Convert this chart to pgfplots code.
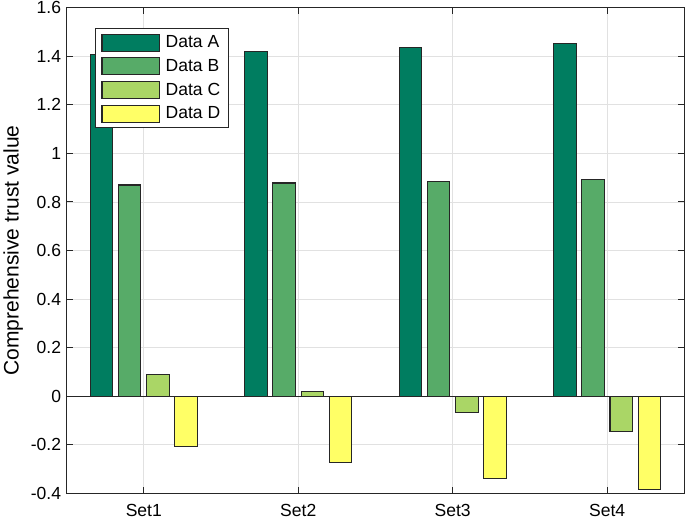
\documentclass[border=0pt]{standalone}
\usepackage{fontspec}
\setmainfont{Liberation Sans}
\usepackage{pgfplots}
\pgfplotsset{compat=1.18}

\definecolor{cA}{RGB}{0,125,96}
\definecolor{cB}{RGB}{87,171,104}
\definecolor{cC}{RGB}{170,214,102}
\definecolor{cD}{RGB}{255,255,102}
\definecolor{edge}{RGB}{38,38,38}
\definecolor{gridc}{RGB}{225,225,225}

\begin{document}
\begin{tikzpicture}
\begin{axis}[
    scale only axis,
    width=617pt, height=485pt,
    xmin=0.5, xmax=4.5,
    ymin=-0.4, ymax=1.6,
    xtick={1,2,3,4},
    xticklabels={Set1,Set2,Set3,Set4},
    ytick={-0.4,-0.2,0,0.2,0.4,0.6,0.8,1,1.2,1.4,1.6},
    /pgf/number format/.cd, fixed, precision=1, assume math mode=true,
    /pgfplots/.cd,
    ylabel={Comprehensive trust value},
    ylabel style={font=\fontsize{21}{24}\selectfont, yshift=1pt},
    tick label style={font=\fontsize{17.5}{20}\selectfont},
    xticklabel style={yshift=-7pt},
    yticklabel style={xshift=-2pt, inner ysep=1.5pt},
    grid=major,
    major grid style={gridc, line width=0.8pt},
    tick align=inside,
    major tick length=6pt,
    every tick/.style={edge, line width=1pt},
    axis line style={edge, line width=1.2pt},
    legend cell align=left,
    legend style={
        at={(0.046,0.958)}, anchor=north west,
        draw=edge, line width=1pt,
        font=\fontsize{17.5}{20}\selectfont,
        inner xsep=6pt, inner ysep=5pt, row sep=5.5pt,
    },
    legend image code/.code={
        \draw[#1, line width=1.1pt] (5pt,-8.5pt) rectangle (62pt,8.5pt);
        \path (66pt,0pt);
    },
]
\addplot[ybar, bar width=22.5pt, bar shift=-42.3pt, fill=cA, draw=edge, line width=1.1pt]
    coordinates {(1,1.406) (2,1.421) (3,1.437) (4,1.454)};
\addlegendentry{Data A}
\addplot[ybar, bar width=22.5pt, bar shift=-14.1pt, fill=cB, draw=edge, line width=1.1pt]
    coordinates {(1,0.870) (2,0.878) (3,0.885) (4,0.893)};
\addlegendentry{Data B}
\addplot[ybar, bar width=22.5pt, bar shift=14.1pt, fill=cC, draw=edge, line width=1.1pt]
    coordinates {(1,0.088) (2,0.021) (3,-0.068) (4,-0.145)};
\addlegendentry{Data C}
\addplot[ybar, bar width=22.5pt, bar shift=42.3pt, fill=cD, draw=edge, line width=1.1pt]
    coordinates {(1,-0.207) (2,-0.272) (3,-0.337) (4,-0.383)};
\addlegendentry{Data D}
% baseline at zero
\addplot[edge, line width=1.2pt, forget plot] coordinates {(0.5,0) (4.5,0)};
\end{axis}
\end{tikzpicture}
\end{document}
